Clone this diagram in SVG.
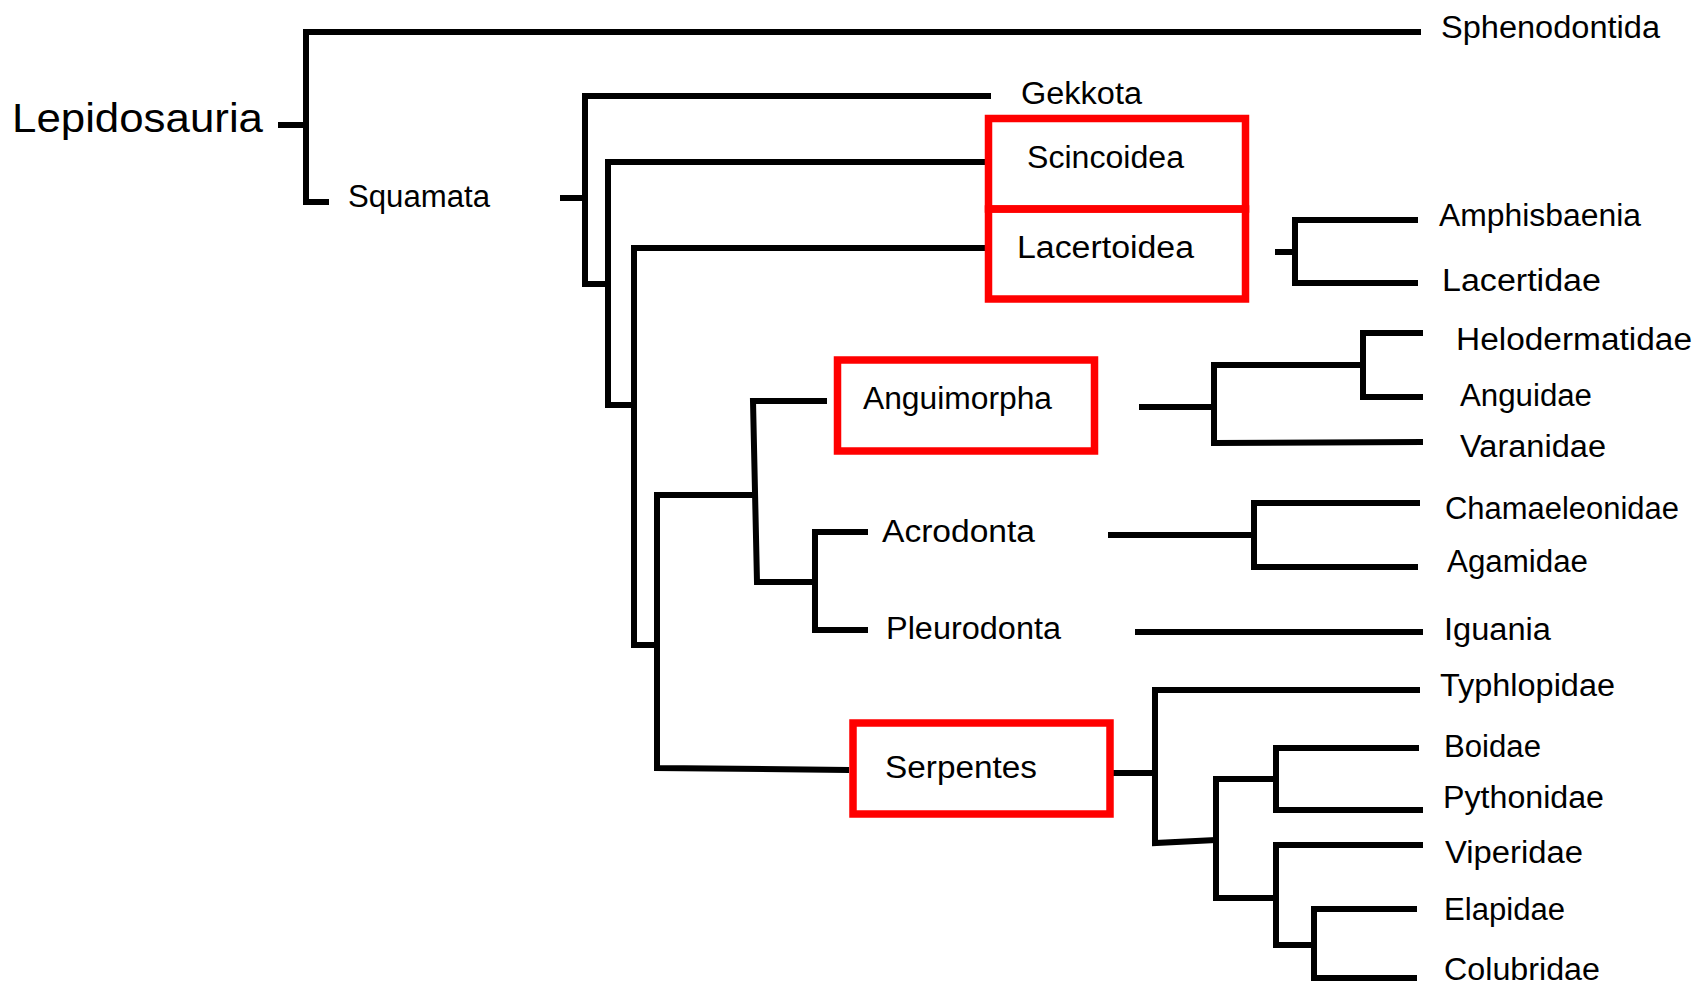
<svg xmlns="http://www.w3.org/2000/svg" width="1697" height="986" viewBox="0 0 1697 986">
<style>
.bg{fill:#fff}
.ln{fill:none;stroke:#000;stroke-width:6;stroke-linejoin:miter;stroke-linecap:butt}
.box{fill:none;stroke:#ff0000;stroke-width:7.5}
.lb{font-family:"Liberation Sans","DejaVu Sans",sans-serif;font-size:31px;fill:#000}
.big{font-family:"Liberation Sans","DejaVu Sans",sans-serif;font-size:40px;fill:#000}
</style>
<rect class="bg" x="0" y="0" width="1697" height="986"/>
<g id="connectors">
<path class="ln" d="M278,125 H306"/>
<path class="ln" d="M1421,32 H306 V202 H329"/>
<path class="ln" d="M560,198 H585"/>
<path class="ln" d="M991,96 H585 V284 H608"/>
<path class="ln" d="M985,162 H608 V405 H634"/>
<path class="ln" d="M985,248 H634 V645 H657"/>
<path class="ln" d="M753,495 H657 V768 L849,770"/>
<path class="ln" d="M827,401 H753 L757,582 H815"/>
<path class="ln" d="M868,532 H815 V630 H868"/>
<path class="ln" d="M1275,252 H1295"/>
<path class="ln" d="M1418,220 H1295 V283 H1418"/>
<path class="ln" d="M1139,407 H1214"/>
<path class="ln" d="M1363,365 H1214 V443 L1423,442"/>
<path class="ln" d="M1423,333 H1363 V397 H1423"/>
<path class="ln" d="M1108,535 H1254"/>
<path class="ln" d="M1420,503 H1254 V567 H1418"/>
<path class="ln" d="M1135,632 H1423"/>
<path class="ln" d="M1110,773 H1155"/>
<path class="ln" d="M1420,690 H1155 V843 L1216,840"/>
<path class="ln" d="M1276,779 H1216 V898 H1276"/>
<path class="ln" d="M1419,748 H1276 V810 H1423"/>
<path class="ln" d="M1423,845 H1276 V945 H1314"/>
<path class="ln" d="M1417,909 H1314 V978 H1417"/>
</g>
<g id="lepidosauria"><text class="big" x="12" y="132" textLength="251" lengthAdjust="spacingAndGlyphs">Lepidosauria</text></g>
<g id="squamata"><text class="lb" x="348" y="207" textLength="142" lengthAdjust="spacingAndGlyphs">Squamata</text></g>
<g id="sphenodontida"><text class="lb" x="1441" y="38" textLength="219" lengthAdjust="spacingAndGlyphs">Sphenodontida</text></g>
<g id="gekkota"><text class="lb" x="1021" y="104" textLength="121" lengthAdjust="spacingAndGlyphs">Gekkota</text></g>
<g id="scincoidea"><rect class="box" x="988.5" y="118.5" width="257" height="90.5"/><text class="lb" x="1027" y="168" textLength="157" lengthAdjust="spacingAndGlyphs">Scincoidea</text></g>
<g id="lacertoidea"><rect class="box" x="988.5" y="209" width="257" height="90"/><text class="lb" x="1017" y="258" textLength="177" lengthAdjust="spacingAndGlyphs">Lacertoidea</text></g>
<g id="amphisbaenia"><text class="lb" x="1439" y="226" textLength="202" lengthAdjust="spacingAndGlyphs">Amphisbaenia</text></g>
<g id="lacertidae"><text class="lb" x="1442" y="291" textLength="159" lengthAdjust="spacingAndGlyphs">Lacertidae</text></g>
<g id="anguimorpha"><rect class="box" x="837.5" y="360" width="257" height="91"/><text class="lb" x="863" y="409" textLength="189" lengthAdjust="spacingAndGlyphs">Anguimorpha</text></g>
<g id="helodermatidae"><text class="lb" x="1456" y="350" textLength="236" lengthAdjust="spacingAndGlyphs">Helodermatidae</text></g>
<g id="anguidae"><text class="lb" x="1460" y="406" textLength="132" lengthAdjust="spacingAndGlyphs">Anguidae</text></g>
<g id="varanidae"><text class="lb" x="1460" y="457" textLength="146" lengthAdjust="spacingAndGlyphs">Varanidae</text></g>
<g id="acrodonta"><text class="lb" x="882" y="542" textLength="153" lengthAdjust="spacingAndGlyphs">Acrodonta</text></g>
<g id="pleurodonta"><text class="lb" x="886" y="639" textLength="175" lengthAdjust="spacingAndGlyphs">Pleurodonta</text></g>
<g id="chamaeleonidae"><text class="lb" x="1445" y="519" textLength="234" lengthAdjust="spacingAndGlyphs">Chamaeleonidae</text></g>
<g id="agamidae"><text class="lb" x="1447" y="572" textLength="141" lengthAdjust="spacingAndGlyphs">Agamidae</text></g>
<g id="iguania"><text class="lb" x="1444" y="640" textLength="107" lengthAdjust="spacingAndGlyphs">Iguania</text></g>
<g id="serpentes"><rect class="box" x="853" y="723" width="257" height="91"/><text class="lb" x="885" y="778" textLength="152" lengthAdjust="spacingAndGlyphs">Serpentes</text></g>
<g id="typhlopidae"><text class="lb" x="1440" y="696" textLength="175" lengthAdjust="spacingAndGlyphs">Typhlopidae</text></g>
<g id="boidae"><text class="lb" x="1444" y="757" textLength="97" lengthAdjust="spacingAndGlyphs">Boidae</text></g>
<g id="pythonidae"><text class="lb" x="1443" y="808" textLength="161" lengthAdjust="spacingAndGlyphs">Pythonidae</text></g>
<g id="viperidae"><text class="lb" x="1445" y="863" textLength="138" lengthAdjust="spacingAndGlyphs">Viperidae</text></g>
<g id="elapidae"><text class="lb" x="1444" y="920" textLength="121" lengthAdjust="spacingAndGlyphs">Elapidae</text></g>
<g id="colubridae"><text class="lb" x="1444" y="980" textLength="156" lengthAdjust="spacingAndGlyphs">Colubridae</text></g>
</svg>
